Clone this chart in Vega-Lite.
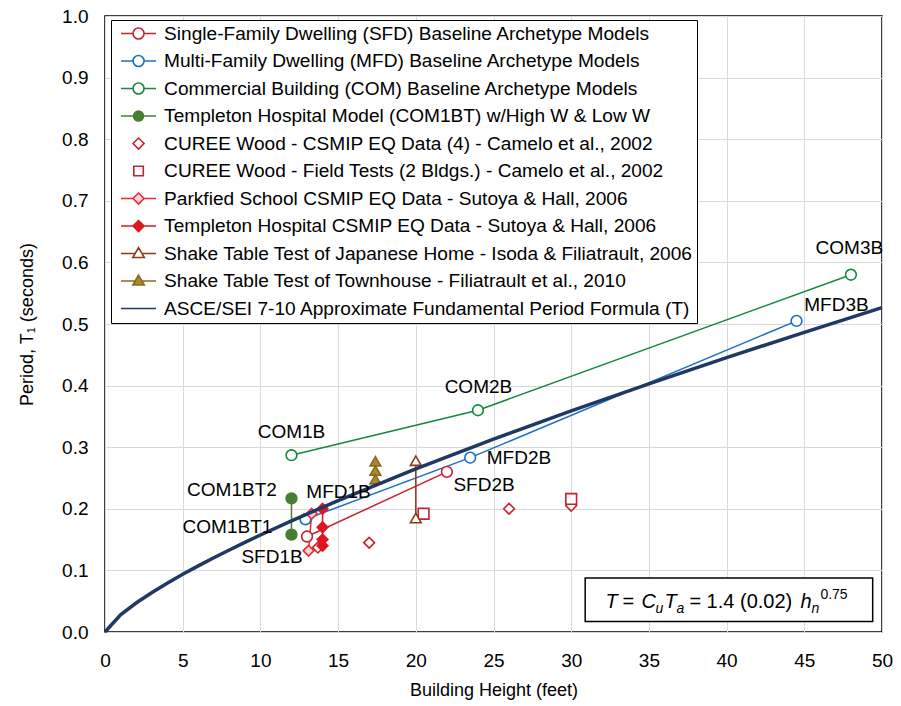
{
  "$schema": "https://vega.github.io/schema/vega-lite/v6.json",
  "width": 777,
  "height": 616,
  "autosize": {"type": "none"},
  "padding": {"left": 105, "top": 16, "right": 19, "bottom": 74},
  "background": "white",
  "datasets": {
    "pts": [
      {"series": "Single-Family Dwelling (SFD) Baseline Archetype Models", "x": 13, "y": 0.155},
      {"series": "Single-Family Dwelling (SFD) Baseline Archetype Models", "x": 22, "y": 0.26},
      {"series": "Multi-Family Dwelling (MFD) Baseline Archetype Models", "x": 12.9, "y": 0.183},
      {"series": "Multi-Family Dwelling (MFD) Baseline Archetype Models", "x": 23.5, "y": 0.283},
      {"series": "Multi-Family Dwelling (MFD) Baseline Archetype Models", "x": 44.5, "y": 0.505},
      {"series": "Commercial Building (COM) Baseline Archetype Models", "x": 12, "y": 0.287},
      {"series": "Commercial Building (COM) Baseline Archetype Models", "x": 24, "y": 0.36},
      {"series": "Commercial Building (COM) Baseline Archetype Models", "x": 48, "y": 0.58},
      {"series": "Templeton Hospital Model (COM1BT) w/High W & Low W", "x": 12, "y": 0.158},
      {"series": "Templeton Hospital Model (COM1BT) w/High W & Low W", "x": 12, "y": 0.217},
      {"series": "CUREE Wood - CSMIP EQ Data (4) - Camelo et al., 2002", "x": 13.7, "y": 0.137},
      {"series": "CUREE Wood - CSMIP EQ Data (4) - Camelo et al., 2002", "x": 17, "y": 0.145},
      {"series": "CUREE Wood - CSMIP EQ Data (4) - Camelo et al., 2002", "x": 26, "y": 0.2},
      {"series": "CUREE Wood - CSMIP EQ Data (4) - Camelo et al., 2002", "x": 30, "y": 0.205},
      {"series": "CUREE Wood - Field Tests (2 Bldgs.) - Camelo et al., 2002", "x": 20.5, "y": 0.192},
      {"series": "CUREE Wood - Field Tests (2 Bldgs.) - Camelo et al., 2002", "x": 30, "y": 0.216},
      {"series": "Parkfied School CSMIP EQ Data - Sutoya & Hall, 2006", "x": 13.3, "y": 0.192},
      {"series": "Parkfied School CSMIP EQ Data - Sutoya & Hall, 2006", "x": 13.1, "y": 0.132},
      {"series": "Templeton Hospital CSMIP EQ Data - Sutoya & Hall, 2006", "x": 14, "y": 0.2},
      {"series": "Templeton Hospital CSMIP EQ Data - Sutoya & Hall, 2006", "x": 14, "y": 0.17},
      {"series": "Templeton Hospital CSMIP EQ Data - Sutoya & Hall, 2006", "x": 14, "y": 0.15},
      {"series": "Templeton Hospital CSMIP EQ Data - Sutoya & Hall, 2006", "x": 14, "y": 0.14},
      {"series": "Shake Table Test of Japanese Home - Isoda & Filiatrault, 2006", "x": 20, "y": 0.278},
      {"series": "Shake Table Test of Japanese Home - Isoda & Filiatrault, 2006", "x": 20, "y": 0.185},
      {"series": "Shake Table Test of Townhouse - Filiatrault et al., 2010", "x": 17.4, "y": 0.277},
      {"series": "Shake Table Test of Townhouse - Filiatrault et al., 2010", "x": 17.4, "y": 0.262},
      {"series": "Shake Table Test of Townhouse - Filiatrault et al., 2010", "x": 17.4, "y": 0.248},
      {"series": "ASCE/SEI 7-10 Approximate Fundamental Period Formula (T)", "x": 0, "y": 0},
      {"series": "ASCE/SEI 7-10 Approximate Fundamental Period Formula (T)", "x": 1, "y": 0.028},
      {"series": "ASCE/SEI 7-10 Approximate Fundamental Period Formula (T)", "x": 2, "y": 0.0471},
      {"series": "ASCE/SEI 7-10 Approximate Fundamental Period Formula (T)", "x": 3, "y": 0.0638},
      {"series": "ASCE/SEI 7-10 Approximate Fundamental Period Formula (T)", "x": 4, "y": 0.0792},
      {"series": "ASCE/SEI 7-10 Approximate Fundamental Period Formula (T)", "x": 5, "y": 0.0936},
      {"series": "ASCE/SEI 7-10 Approximate Fundamental Period Formula (T)", "x": 6, "y": 0.1073},
      {"series": "ASCE/SEI 7-10 Approximate Fundamental Period Formula (T)", "x": 7, "y": 0.1205},
      {"series": "ASCE/SEI 7-10 Approximate Fundamental Period Formula (T)", "x": 8, "y": 0.1332},
      {"series": "ASCE/SEI 7-10 Approximate Fundamental Period Formula (T)", "x": 9, "y": 0.1455},
      {"series": "ASCE/SEI 7-10 Approximate Fundamental Period Formula (T)", "x": 10, "y": 0.1575},
      {"series": "ASCE/SEI 7-10 Approximate Fundamental Period Formula (T)", "x": 12, "y": 0.1805},
      {"series": "ASCE/SEI 7-10 Approximate Fundamental Period Formula (T)", "x": 15, "y": 0.2134},
      {"series": "ASCE/SEI 7-10 Approximate Fundamental Period Formula (T)", "x": 20, "y": 0.2648},
      {"series": "ASCE/SEI 7-10 Approximate Fundamental Period Formula (T)", "x": 25, "y": 0.313},
      {"series": "ASCE/SEI 7-10 Approximate Fundamental Period Formula (T)", "x": 30, "y": 0.3589},
      {"series": "ASCE/SEI 7-10 Approximate Fundamental Period Formula (T)", "x": 35, "y": 0.4029},
      {"series": "ASCE/SEI 7-10 Approximate Fundamental Period Formula (T)", "x": 40, "y": 0.4454},
      {"series": "ASCE/SEI 7-10 Approximate Fundamental Period Formula (T)", "x": 45, "y": 0.4865},
      {"series": "ASCE/SEI 7-10 Approximate Fundamental Period Formula (T)", "x": 50, "y": 0.5265}
    ],
    "labels": [
      {"label": "COM1B", "x": 12.0, "y": 0.325},
      {"label": "COM1BT2", "x": 8.17, "y": 0.2305},
      {"label": "COM1BT1", "x": 7.88, "y": 0.17},
      {"label": "SFD1B", "x": 10.75, "y": 0.122},
      {"label": "MFD1B", "x": 15.03, "y": 0.227},
      {"label": "MFD2B", "x": 26.64, "y": 0.282},
      {"label": "SFD2B", "x": 24.39, "y": 0.239},
      {"label": "COM2B", "x": 24.03, "y": 0.398},
      {"label": "COM3B", "x": 47.9, "y": 0.623},
      {"label": "MFD3B", "x": 47.07, "y": 0.531}
    ]
  },
  "resolve": {"scale": {"shape": "independent", "stroke": "independent", "fill": "independent", "strokeWidth": "independent", "size": "independent"}},
  "layer": [
    {
      "data": {"name": "pts"},
      "transform": [{"filter": {"field": "series", "oneOf": [
        "Single-Family Dwelling (SFD) Baseline Archetype Models",
        "Multi-Family Dwelling (MFD) Baseline Archetype Models",
        "Commercial Building (COM) Baseline Archetype Models",
        "Templeton Hospital Model (COM1BT) w/High W & Low W",
        "Parkfied School CSMIP EQ Data - Sutoya & Hall, 2006",
        "Templeton Hospital CSMIP EQ Data - Sutoya & Hall, 2006",
        "Shake Table Test of Japanese Home - Isoda & Filiatrault, 2006"]}}],
      "mark": {"type": "line"},
      "encoding": {
        "x": {"field": "x", "type": "quantitative", "scale": {"domain": [0, 50], "nice": false},
          "axis": {"values": [0, 5, 10, 15, 20, 25, 30, 35, 40, 45, 50], "title": "Building Height (feet)", "labelPadding": 19, "titlePadding": 11, "labelFlush": false, "labelOverlap": false}},
        "y": {"field": "y", "type": "quantitative", "scale": {"domain": [0, 1], "nice": false},
          "axis": {"values": [0, 0.1, 0.2, 0.3, 0.4, 0.5, 0.6, 0.7, 0.8, 0.9, 1.0], "format": ".1f", "title": "Period, T₁ (seconds)", "labelPadding": 17, "titlePadding": 25, "labelFlush": false, "labelOverlap": false}},
        "detail": {"field": "series"},
        "order": {"field": "y", "type": "quantitative"},
        "stroke": {"field": "series", "type": "nominal", "legend": null, "scale": {
          "domain": ["Single-Family Dwelling (SFD) Baseline Archetype Models", "Multi-Family Dwelling (MFD) Baseline Archetype Models", "Commercial Building (COM) Baseline Archetype Models", "Templeton Hospital Model (COM1BT) w/High W & Low W", "Parkfied School CSMIP EQ Data - Sutoya & Hall, 2006", "Templeton Hospital CSMIP EQ Data - Sutoya & Hall, 2006", "Shake Table Test of Japanese Home - Isoda & Filiatrault, 2006"],
          "range": ["#c8202f", "#1c6fc1", "#13893f", "#467f32", "#f0282d", "#e0161e", "#8a3b17"]}},
        "strokeWidth": {"field": "series", "type": "nominal", "legend": null, "scale": {
          "domain": ["Single-Family Dwelling (SFD) Baseline Archetype Models", "Multi-Family Dwelling (MFD) Baseline Archetype Models", "Commercial Building (COM) Baseline Archetype Models", "Templeton Hospital Model (COM1BT) w/High W & Low W", "Parkfied School CSMIP EQ Data - Sutoya & Hall, 2006", "Templeton Hospital CSMIP EQ Data - Sutoya & Hall, 2006", "Shake Table Test of Japanese Home - Isoda & Filiatrault, 2006"],
          "range": [1.5, 1.5, 1.5, 3.5, 1.5, 1.5, 1.8]}}
      }
    },
    {
      "data": {"name": "pts"},
      "transform": [{"filter": "datum.series !== 'ASCE/SEI 7-10 Approximate Fundamental Period Formula (T)'"}],
      "mark": {"type": "point", "filled": true, "opacity": 1},
      "encoding": {
        "x": {"field": "x", "type": "quantitative"},
        "y": {"field": "y", "type": "quantitative"},
        "shape": {"field": "series", "type": "nominal", "legend": null, "scale": {
          "domain": ["Single-Family Dwelling (SFD) Baseline Archetype Models", "Multi-Family Dwelling (MFD) Baseline Archetype Models", "Commercial Building (COM) Baseline Archetype Models", "Templeton Hospital Model (COM1BT) w/High W & Low W", "CUREE Wood - CSMIP EQ Data (4) - Camelo et al., 2002", "CUREE Wood - Field Tests (2 Bldgs.) - Camelo et al., 2002", "Parkfied School CSMIP EQ Data - Sutoya & Hall, 2006", "Templeton Hospital CSMIP EQ Data - Sutoya & Hall, 2006", "Shake Table Test of Japanese Home - Isoda & Filiatrault, 2006", "Shake Table Test of Townhouse - Filiatrault et al., 2010", "ASCE/SEI 7-10 Approximate Fundamental Period Formula (T)"],
          "range": ["circle", "circle", "circle", "circle", "diamond", "square", "diamond", "diamond", "triangle-up", "triangle-up", "circle"]}},
        "stroke": {"field": "series", "type": "nominal", "legend": null, "scale": {
          "domain": ["Single-Family Dwelling (SFD) Baseline Archetype Models", "Multi-Family Dwelling (MFD) Baseline Archetype Models", "Commercial Building (COM) Baseline Archetype Models", "Templeton Hospital Model (COM1BT) w/High W & Low W", "CUREE Wood - CSMIP EQ Data (4) - Camelo et al., 2002", "CUREE Wood - Field Tests (2 Bldgs.) - Camelo et al., 2002", "Parkfied School CSMIP EQ Data - Sutoya & Hall, 2006", "Templeton Hospital CSMIP EQ Data - Sutoya & Hall, 2006", "Shake Table Test of Japanese Home - Isoda & Filiatrault, 2006", "Shake Table Test of Townhouse - Filiatrault et al., 2010", "ASCE/SEI 7-10 Approximate Fundamental Period Formula (T)"],
          "range": ["#c8202f", "#1c6fc1", "#13893f", "#467f32", "#c8202f", "#c8202f", "#f0282d", "#e0161e", "#8a3b17", "#8a6a1d", "#1f3864"]}},
        "fill": {"field": "series", "type": "nominal", "legend": null, "scale": {
          "domain": ["Single-Family Dwelling (SFD) Baseline Archetype Models", "Multi-Family Dwelling (MFD) Baseline Archetype Models", "Commercial Building (COM) Baseline Archetype Models", "Templeton Hospital Model (COM1BT) w/High W & Low W", "CUREE Wood - CSMIP EQ Data (4) - Camelo et al., 2002", "CUREE Wood - Field Tests (2 Bldgs.) - Camelo et al., 2002", "Parkfied School CSMIP EQ Data - Sutoya & Hall, 2006", "Templeton Hospital CSMIP EQ Data - Sutoya & Hall, 2006", "Shake Table Test of Japanese Home - Isoda & Filiatrault, 2006", "Shake Table Test of Townhouse - Filiatrault et al., 2010", "ASCE/SEI 7-10 Approximate Fundamental Period Formula (T)"],
          "range": ["#ffffff", "#ffffff", "#ffffff", "#467f32", "#ffffff", "#ffffff", "#f5d3e2", "#e0161e", "#ffffff", "#a8892c", "#ffffff"]}},
        "size": {"field": "series", "type": "nominal", "legend": null, "scale": {
          "domain": ["Single-Family Dwelling (SFD) Baseline Archetype Models", "Multi-Family Dwelling (MFD) Baseline Archetype Models", "Commercial Building (COM) Baseline Archetype Models", "Templeton Hospital Model (COM1BT) w/High W & Low W", "CUREE Wood - CSMIP EQ Data (4) - Camelo et al., 2002", "CUREE Wood - Field Tests (2 Bldgs.) - Camelo et al., 2002", "Parkfied School CSMIP EQ Data - Sutoya & Hall, 2006", "Templeton Hospital CSMIP EQ Data - Sutoya & Hall, 2006", "Shake Table Test of Japanese Home - Isoda & Filiatrault, 2006", "Shake Table Test of Townhouse - Filiatrault et al., 2010", "ASCE/SEI 7-10 Approximate Fundamental Period Formula (T)"],
          "range": [115, 115, 115, 100, 180, 150, 180, 180, 180, 180, 100]}},
        "strokeWidth": {"field": "series", "type": "nominal", "legend": null, "scale": {
          "domain": ["Single-Family Dwelling (SFD) Baseline Archetype Models", "Multi-Family Dwelling (MFD) Baseline Archetype Models", "Commercial Building (COM) Baseline Archetype Models", "Templeton Hospital Model (COM1BT) w/High W & Low W", "CUREE Wood - CSMIP EQ Data (4) - Camelo et al., 2002", "CUREE Wood - Field Tests (2 Bldgs.) - Camelo et al., 2002", "Parkfied School CSMIP EQ Data - Sutoya & Hall, 2006", "Templeton Hospital CSMIP EQ Data - Sutoya & Hall, 2006", "Shake Table Test of Japanese Home - Isoda & Filiatrault, 2006", "Shake Table Test of Townhouse - Filiatrault et al., 2010", "ASCE/SEI 7-10 Approximate Fundamental Period Formula (T)"],
          "range": [1.6, 1.6, 1.6, 1.5, 2, 2.8, 1.6, 1.5, 1.8, 1.5, 1.5]}}
      }
    },
    {
      "data": {"name": "pts"},
      "transform": [{"filter": "datum.series === 'ASCE/SEI 7-10 Approximate Fundamental Period Formula (T)'"}],
      "mark": {"type": "line", "stroke": "#1f3864", "strokeWidth": 3.5},
      "encoding": {
        "x": {"field": "x", "type": "quantitative"},
        "y": {"field": "y", "type": "quantitative"}
      }
    },
    {
      "data": {"name": "pts"},
      "transform": [{"filter": "false"}],
      "mark": {"type": "point", "filled": true, "opacity": 1, "size": 100},
      "encoding": {
        "x": {"field": "x", "type": "quantitative"},
        "y": {"field": "y", "type": "quantitative"},
        "shape": {"field": "series", "type": "nominal",
          "legend": {"title": null, "orient": "none", "legendX": 6, "legendY": 4, "direction": "vertical", "columns": 1, "strokeColor": "black", "fillColor": "white", "padding": 4, "labelFont": "Liberation Sans", "labelFontSize": 19.1, "labelColor": "black", "labelLimit": 0, "symbolSize": 100, "symbolOffset": 14, "labelOffset": 16, "rowPadding": 7.5},
          "scale": {
          "domain": ["Single-Family Dwelling (SFD) Baseline Archetype Models", "Multi-Family Dwelling (MFD) Baseline Archetype Models", "Commercial Building (COM) Baseline Archetype Models", "Templeton Hospital Model (COM1BT) w/High W & Low W", "CUREE Wood - CSMIP EQ Data (4) - Camelo et al., 2002", "CUREE Wood - Field Tests (2 Bldgs.) - Camelo et al., 2002", "Parkfied School CSMIP EQ Data - Sutoya & Hall, 2006", "Templeton Hospital CSMIP EQ Data - Sutoya & Hall, 2006", "Shake Table Test of Japanese Home - Isoda & Filiatrault, 2006", "Shake Table Test of Townhouse - Filiatrault et al., 2010", "ASCE/SEI 7-10 Approximate Fundamental Period Formula (T)"],
          "range": [
            "M-3.5,0H-1.1M1.1,0H3.5M1.1,0A1.1,1.1,0,1,1,-1.1,0A1.1,1.1,0,1,1,1.1,0Z",
            "M-3.5,0H-1.1M1.1,0H3.5M1.1,0A1.1,1.1,0,1,1,-1.1,0A1.1,1.1,0,1,1,1.1,0Z",
            "M-3.5,0H-1.1M1.1,0H3.5M1.1,0A1.1,1.1,0,1,1,-1.1,0A1.1,1.1,0,1,1,1.1,0Z",
            "M-3.5,0H-1M1,0H3.5M1,0A1,1,0,1,1,-1,0A1,1,0,1,1,1,0Z",
            "M0,-1.1L1.1,0L0,1.1L-1.1,0Z",
            "M-0.95,-0.95H0.95V0.95H-0.95Z",
            "M-3.5,0H-1.1M1.1,0H3.5M0,-1.1L1.1,0L0,1.1L-1.1,0Z",
            "M-3.5,0H-1.1M1.1,0H3.5M0,-1.1L1.1,0L0,1.1L-1.1,0Z",
            "M-3.5,0H-0.7M0.7,0H3.5M0,-1.2L1.15,0.8L-1.15,0.8Z",
            "M-3.5,0H-0.7M0.7,0H3.5M0,-1.2L1.15,0.8L-1.15,0.8Z",
            "M-3.5,0H3.5"]}},
        "stroke": {"field": "series", "type": "nominal", "legend": {"title": null}, "scale": {
          "domain": ["Single-Family Dwelling (SFD) Baseline Archetype Models", "Multi-Family Dwelling (MFD) Baseline Archetype Models", "Commercial Building (COM) Baseline Archetype Models", "Templeton Hospital Model (COM1BT) w/High W & Low W", "CUREE Wood - CSMIP EQ Data (4) - Camelo et al., 2002", "CUREE Wood - Field Tests (2 Bldgs.) - Camelo et al., 2002", "Parkfied School CSMIP EQ Data - Sutoya & Hall, 2006", "Templeton Hospital CSMIP EQ Data - Sutoya & Hall, 2006", "Shake Table Test of Japanese Home - Isoda & Filiatrault, 2006", "Shake Table Test of Townhouse - Filiatrault et al., 2010", "ASCE/SEI 7-10 Approximate Fundamental Period Formula (T)"],
          "range": ["#c8202f", "#1c6fc1", "#13893f", "#467f32", "#c8202f", "#c8202f", "#f0282d", "#e0161e", "#8a3b17", "#8a6a1d", "#1f3864"]}},
        "fill": {"field": "series", "type": "nominal", "legend": {"title": null}, "scale": {
          "domain": ["Single-Family Dwelling (SFD) Baseline Archetype Models", "Multi-Family Dwelling (MFD) Baseline Archetype Models", "Commercial Building (COM) Baseline Archetype Models", "Templeton Hospital Model (COM1BT) w/High W & Low W", "CUREE Wood - CSMIP EQ Data (4) - Camelo et al., 2002", "CUREE Wood - Field Tests (2 Bldgs.) - Camelo et al., 2002", "Parkfied School CSMIP EQ Data - Sutoya & Hall, 2006", "Templeton Hospital CSMIP EQ Data - Sutoya & Hall, 2006", "Shake Table Test of Japanese Home - Isoda & Filiatrault, 2006", "Shake Table Test of Townhouse - Filiatrault et al., 2010", "ASCE/SEI 7-10 Approximate Fundamental Period Formula (T)"],
          "range": ["#ffffff", "#ffffff", "#ffffff", "#467f32", "#ffffff", "#ffffff", "#f5d3e2", "#e0161e", "#ffffff", "#a8892c", "#ffffff"]}},
        "strokeWidth": {"field": "series", "type": "nominal", "legend": {"title": null}, "scale": {
          "domain": ["Single-Family Dwelling (SFD) Baseline Archetype Models", "Multi-Family Dwelling (MFD) Baseline Archetype Models", "Commercial Building (COM) Baseline Archetype Models", "Templeton Hospital Model (COM1BT) w/High W & Low W", "CUREE Wood - CSMIP EQ Data (4) - Camelo et al., 2002", "CUREE Wood - Field Tests (2 Bldgs.) - Camelo et al., 2002", "Parkfied School CSMIP EQ Data - Sutoya & Hall, 2006", "Templeton Hospital CSMIP EQ Data - Sutoya & Hall, 2006", "Shake Table Test of Japanese Home - Isoda & Filiatrault, 2006", "Shake Table Test of Townhouse - Filiatrault et al., 2010", "ASCE/SEI 7-10 Approximate Fundamental Period Formula (T)"],
          "range": [1.6, 1.6, 1.6, 3.5, 2, 2.8, 1.6, 1.6, 1.8, 1.6, 3.5]}}
      }
    },
    {
      "data": {"name": "labels"},
      "mark": {"type": "text", "font": "Liberation Sans", "fontSize": 19, "color": "black", "align": "center", "baseline": "middle"},
      "encoding": {
        "x": {"field": "x", "type": "quantitative"},
        "y": {"field": "y", "type": "quantitative"},
        "text": {"field": "label"}
      }
    },
    {
      "data": {"values": [{}]},
      "mark": {"type": "rect", "fill": "white", "stroke": "black", "strokeWidth": 1.5},
      "encoding": {
        "x": {"datum": 30.9}, "x2": {"datum": 49.4},
        "y": {"datum": 0.0875}, "y2": {"datum": 0.017}
      }
    },
    {
      "data": {"values": [{}]},
      "mark": {"type": "text", "text": "T", "font": "Liberation Sans", "fontStyle": "italic", "fontSize": 20, "align": "left", "baseline": "alphabetic", "color": "black", "dx": 0},
      "encoding": {"x": {"datum": 32.2}, "y": {"datum": 0.039}}
    },
    {
      "data": {"values": [{}]},
      "mark": {"type": "text", "text": "=", "font": "Liberation Sans", "fontSize": 20, "align": "left", "baseline": "alphabetic", "color": "black", "dx": 17},
      "encoding": {"x": {"datum": 32.2}, "y": {"datum": 0.039}}
    },
    {
      "data": {"values": [{}]},
      "mark": {"type": "text", "text": "C", "font": "Liberation Sans", "fontStyle": "italic", "fontSize": 20, "align": "left", "baseline": "alphabetic", "color": "black", "dx": 36},
      "encoding": {"x": {"datum": 32.2}, "y": {"datum": 0.039}}
    },
    {
      "data": {"values": [{}]},
      "mark": {"type": "text", "text": "u", "font": "Liberation Sans", "fontStyle": "italic", "fontSize": 14, "align": "left", "baseline": "alphabetic", "color": "black", "dx": 50, "dy": 5},
      "encoding": {"x": {"datum": 32.2}, "y": {"datum": 0.039}}
    },
    {
      "data": {"values": [{}]},
      "mark": {"type": "text", "text": "T", "font": "Liberation Sans", "fontStyle": "italic", "fontSize": 20, "align": "left", "baseline": "alphabetic", "color": "black", "dx": 59},
      "encoding": {"x": {"datum": 32.2}, "y": {"datum": 0.039}}
    },
    {
      "data": {"values": [{}]},
      "mark": {"type": "text", "text": "a", "font": "Liberation Sans", "fontStyle": "italic", "fontSize": 14, "align": "left", "baseline": "alphabetic", "color": "black", "dx": 71, "dy": 5},
      "encoding": {"x": {"datum": 32.2}, "y": {"datum": 0.039}}
    },
    {
      "data": {"values": [{}]},
      "mark": {"type": "text", "text": "= 1.4 (0.02)", "font": "Liberation Sans", "fontSize": 20, "align": "left", "baseline": "alphabetic", "color": "black", "dx": 84},
      "encoding": {"x": {"datum": 32.2}, "y": {"datum": 0.039}}
    },
    {
      "data": {"values": [{}]},
      "mark": {"type": "text", "text": "h", "font": "Liberation Sans", "fontStyle": "italic", "fontSize": 20, "align": "left", "baseline": "alphabetic", "color": "black", "dx": 195},
      "encoding": {"x": {"datum": 32.2}, "y": {"datum": 0.039}}
    },
    {
      "data": {"values": [{}]},
      "mark": {"type": "text", "text": "n", "font": "Liberation Sans", "fontStyle": "italic", "fontSize": 14, "align": "left", "baseline": "alphabetic", "color": "black", "dx": 206, "dy": 5},
      "encoding": {"x": {"datum": 32.2}, "y": {"datum": 0.039}}
    },
    {
      "data": {"values": [{}]},
      "mark": {"type": "text", "text": "0.75", "font": "Liberation Sans", "fontSize": 14, "align": "left", "baseline": "alphabetic", "color": "black", "dx": 215, "dy": -9},
      "encoding": {"x": {"datum": 32.2}, "y": {"datum": 0.039}}
    }
  ],
  "config": {
    "view": {"stroke": "black", "strokeWidth": 1.5},
    "font": "Liberation Sans",
    "axis": {"grid": true, "gridColor": "#d9d9d9", "gridWidth": 1, "domain": false, "ticks": false,
      "labelFont": "Liberation Sans", "labelFontSize": 19, "labelColor": "black",
      "titleFont": "Liberation Sans", "titleFontSize": 18, "titleFontWeight": "normal", "titleColor": "black"}
  }
}
